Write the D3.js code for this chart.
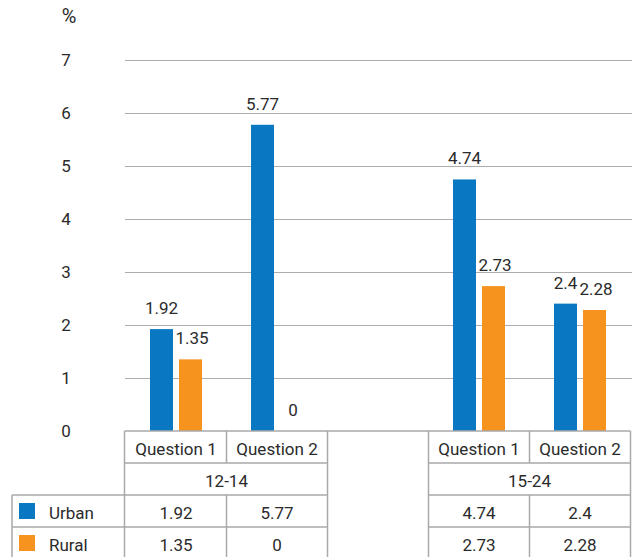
<!DOCTYPE html>
<html>
<head>
<meta charset="utf-8">
<script src="https://cdn.jsdelivr.net/npm/d3@7"></script>
<style>
  html, body { margin: 0; padding: 0; background: #fff; }
  svg { display: block; }
  text { font-family: Roboto, "Noto Sans", sans-serif; fill: #2b2b2b; }
</style>
</head>
<body>
<svg id="chart" width="632" height="557"></svg>
<script>
// ---- data ----
const ageGroups = ["12-14", "15-24"];
const questions = ["Question 1", "Question 2"];
const seriesNames = ["Urban", "Rural"];
const urbanValues = [1.92, 5.77, 4.74, 2.4];   // 12-14 Q1, 12-14 Q2, 15-24 Q1, 15-24 Q2
const ruralValues = [1.35, 0, 2.73, 2.28];
const yTicks = [0, 1, 2, 3, 4, 5, 6, 7];
const unitLabel = "%";
const colors = ["#0a77c2", "#f6921e"];

// ---- layout ----
const W = 632, H = 557;
const svg = d3.select("#chart");
const fontSize = 17;
const lineColor = "#a9a9a9";

// slots: two questions per age group with an empty gap slot between groups
const slots = [];
ageGroups.forEach((g, gi) => {
  questions.forEach((q, qi) => slots.push({ key: g + "|" + q, group: g, question: q, idx: gi * questions.length + qi }));
  if (gi < ageGroups.length - 1) slots.push({ key: "gap" + gi, gap: true });
});
const dataSlots = slots.filter(s => !s.gap);

const x0 = d3.scaleBand().domain(slots.map(s => s.key)).range([125.5, 630.5]).paddingInner(0).paddingOuter(0);
const bw = x0.bandwidth();
const x1 = d3.scaleBand().domain(seriesNames).range([0, bw]).paddingInner(6 / 29).paddingOuter(0.845);
const y = d3.scaleLinear().domain([0, 7]).range([431, 59.5]);
const rightEdge = x0.range()[1];

// gridlines
svg.append("g").selectAll("line").data(yTicks.filter(t => t > 0)).join("line")
  .attr("x1", 125).attr("x2", W)
  .attr("y1", d => Math.round(y(d)) + 0.5).attr("y2", d => Math.round(y(d)) + 0.5)
  .attr("stroke", "#acacac").attr("stroke-width", 1.2);

// y-axis labels
svg.append("g").selectAll("text").data(yTicks).join("text")
  .attr("x", 66).attr("y", d => y(d))
  .attr("dy", "0.36em")
  .attr("text-anchor", "middle").attr("font-size", fontSize)
  .text(d => d);
svg.append("text").attr("x", 69).attr("y", 23).attr("text-anchor", "middle")
  .attr("font-size", 20).text(unitLabel);

// bars
const values = [urbanValues, ruralValues];
const barData = [];
dataSlots.forEach(s => seriesNames.forEach((n, si) => barData.push({ slot: s.key, series: n, si, v: values[si][s.idx] })));

svg.append("g").selectAll("rect").data(barData).join("rect")
  .attr("x", d => x0(d.slot) + x1(d.series))
  .attr("width", x1.bandwidth())
  .attr("y", d => y(d.v))
  .attr("height", d => y(0) - y(d.v))
  .attr("fill", d => colors[d.si]);

// value labels
svg.append("g").selectAll("text").data(barData).join("text")
  .attr("x", d => x0(d.slot) + x1(d.series) + x1.bandwidth() / 2 + (d.si === 1 ? 1.5 : 0))
  .attr("y", d => y(d.v) - 15)
  .attr("text-anchor", "middle").attr("font-size", fontSize)
  .text(d => d.v);

// ---- data table ----
const rowTop = [y(0), 463, 495, 527];
const legendLeft = 12;
const tableLeft = x0.range()[0] - 1;
const tbl = svg.append("g").attr("stroke", lineColor).attr("stroke-width", 1.5).attr("fill", "none");

// spans of data columns per age group
const groupSpans = ageGroups.map(g => {
  const ss = dataSlots.filter(s => s.group === g);
  return [x0(ss[0].key), x0(ss[ss.length - 1].key) + bw];
});
const hl = (yy, xa, xb) => tbl.append("line").attr("x1", xa).attr("x2", xb).attr("y1", yy).attr("y2", yy);
const vl = (xx, ya, yb) => tbl.append("line").attr("x1", xx).attr("x2", xx).attr("y1", ya).attr("y2", yb);

// top line across whole table
hl(rowTop[0], tableLeft, rightEdge);
// other horizontal lines
[1, 2, 3].forEach(r => {
  groupSpans.forEach((sp, gi) => {
    const xa = (gi === 0 && r >= 2) ? legendLeft : (gi === 0 ? tableLeft : sp[0]);
    hl(rowTop[r], xa, sp[1]);
  });
});
// vertical lines
vl(legendLeft, rowTop[2], H);
vl(tableLeft, rowTop[0], H);
slots.forEach((s, i) => {
  const xe = x0(s.key) + bw;
  if (i === slots.length - 1) { vl(xe, rowTop[0], H); return; }
  const next = slots[i + 1];
  if (s.gap || next.gap) {
    vl(xe, rowTop[0], H);
  } else {
    vl(xe, rowTop[0], rowTop[1]);
    vl(xe, rowTop[2], H);
  }
});

const baseOff = 24;
const tt = svg.append("g").attr("font-size", fontSize).attr("text-anchor", "middle");
// question row
tt.selectAll("text.q").data(dataSlots).join("text").attr("class", "q")
  .attr("x", d => x0(d.key) + bw / 2).attr("y", rowTop[0] + baseOff).text(d => d.question);
// age group row
tt.selectAll("text.g").data(ageGroups).join("text").attr("class", "g")
  .attr("x", (d, i) => (groupSpans[i][0] + groupSpans[i][1]) / 2).attr("y", rowTop[1] + baseOff).text(d => d);
// value rows + legend
seriesNames.forEach((n, si) => {
  tt.selectAll("text.v" + si).data(dataSlots).join("text").attr("class", "v" + si)
    .attr("x", d => x0(d.key) + bw / 2).attr("y", rowTop[2 + si] + baseOff)
    .text(d => values[si][d.idx]);
  svg.append("rect").attr("x", 19).attr("y", rowTop[2 + si] + 8).attr("width", 16).attr("height", 16).attr("fill", colors[si]);
  svg.append("text").attr("x", 49).attr("y", rowTop[2 + si] + baseOff).attr("font-size", fontSize).text(n);
});
</script>
</body>
</html>
